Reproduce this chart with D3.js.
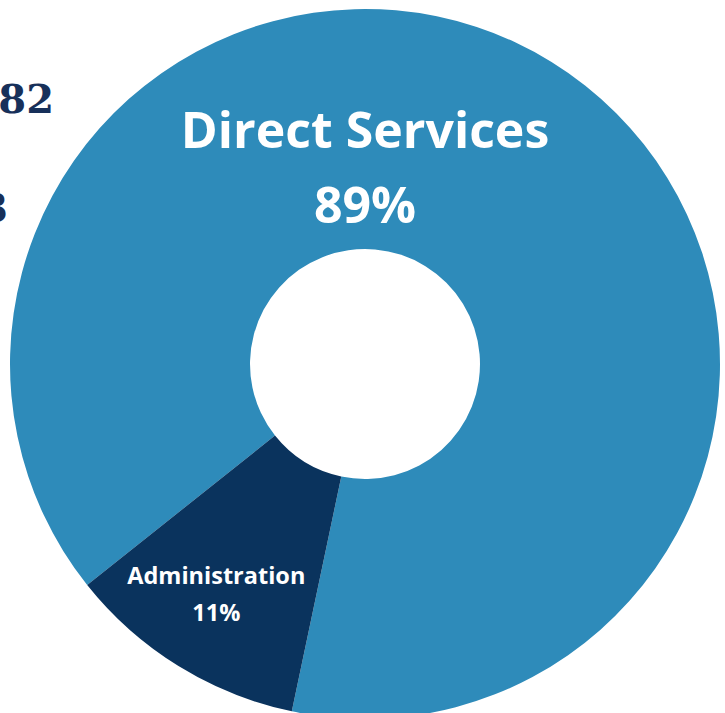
<!DOCTYPE html>
<html>
<head>
<meta charset="utf-8">
<script src="https://cdn.jsdelivr.net/npm/d3@7"></script>
<style>
  html, body { margin: 0; padding: 0; background: #fff; overflow: hidden; }
  svg { display: block; }
</style>
</head>
<body>
<script>
// slices, in drawing order (clockwise from the start angle)
const categories = ['Direct Services', 'Administration'];
const shares = [89, 11];
const colors = ['#2E8BBA', '#0A335D'];
// cut-off figures at the left edge of the page
const sideNumbers = ['82', '3'];

const width = 725, height = 713;
const cx = 365, cy = 364, outerR = 355, innerR = 115;
const startDeg = -128.5;

const svg = d3.select('body').append('svg')
    .attr('width', width).attr('height', height);

const g = svg.append('g').attr('transform', 'translate(' + cx + ',' + cy + ')');

const pie = d3.pie().sort(null)
    .startAngle(startDeg * Math.PI / 180)
    .endAngle((startDeg + 360) * Math.PI / 180);
const arcs = pie(shares);
const arc = d3.arc().innerRadius(innerR).outerRadius(outerR);

g.selectAll('path.slice').data(arcs).enter().append('path')
    .attr('class', 'slice')
    .attr('d', arc)
    .attr('fill', (d, i) => colors[i]);

// labels: big one at the top of the ring, small one inside the dark slice
const font = '"Open Sans", sans-serif';
const adminArc = d3.arc().innerRadius(283).outerRadius(283);

const big = g.append('text')
    .attr('text-anchor', 'middle').attr('fill', '#fff')
    .attr('font-family', font).attr('font-weight', 700)
    .attr('font-size', 50)
    .attr('x', 0).attr('y', -216);
big.append('tspan').attr('x', 0).attr('dy', 0).text(categories[0]);
big.append('tspan').attr('x', 0).attr('dy', 75).text(shares[0] + '%');

const [ax, ay] = adminArc.centroid(arcs[1]);
const small = g.append('text')
    .attr('text-anchor', 'middle').attr('fill', '#fff')
    .attr('font-family', font).attr('font-weight', 700)
    .attr('font-size', 23.5)
    .attr('x', ax).attr('y', ay - 21);
small.append('tspan').attr('x', ax).attr('dy', 0).text(categories[1]);
small.append('tspan').attr('x', ax).attr('dy', 37).text(shares[1] + '%');

// partial numbers peeking in from the left
svg.selectAll('text.side').data(sideNumbers).enter().append('text')
    .attr('class', 'side')
    .attr('text-anchor', 'end')
    .attr('x', (d, i) => i === 0 ? 54 : 8)
    .attr('y', (d, i) => i === 0 ? 113 : 222)
    .attr('font-family', '"DejaVu Serif", serif')
    .attr('font-weight', 700)
    .attr('font-size', 40)
    .attr('fill', '#17305A')
    .text(d => d);
</script>
</body>
</html>
